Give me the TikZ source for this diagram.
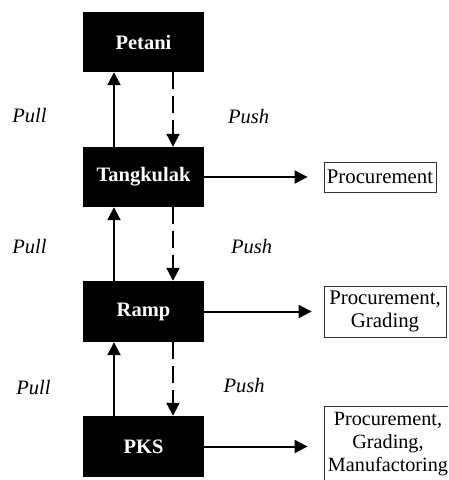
\documentclass[tikz,border=0pt]{standalone}
\usepackage{fontspec}
\setmainfont{Liberation Serif}
\usetikzlibrary{arrows.meta}
\begin{document}
\begin{tikzpicture}[x=1pt,y=-1pt,
  blackbox/.style={rectangle,fill=black,text=white,font=\fontsize{20.5}{23.5}\selectfont\bfseries,minimum width=121pt,minimum height=60pt,inner sep=0pt},
  infobox/.style={rectangle,draw=black!80,line width=0.8pt,font=\fontsize{20.8}{23.5}\selectfont,align=center,inner sep=0pt},
  lbl/.style={font=\fontsize{20.5}{23.5}\selectfont\itshape,inner sep=0pt},
  arr/.style={line width=2pt,-{Triangle[width=13pt,length=13pt]}},
  darr/.style={arr,dash pattern=on 17pt off 7pt}]
\clip (0,0) rectangle (448,480);
\useasboundingbox (0,0) rectangle (448,480);
\fill[white] (0,0) rectangle (448,480);
\node[blackbox] (petani) at (143.5,42) {Petani};
\node[blackbox] (tang) at (143.5,177) {Tangkulak};
\node[blackbox,minimum height=61pt] (ramp) at (143.5,311.5) {Ramp};
\node[blackbox,minimum height=61pt] (pks) at (143.5,446.5) {PKS};
\coordinate (px) at (114,0);
\coordinate (sx) at (173,0);
\node[infobox,minimum width=112pt,minimum height=30pt] (p1) at (380,177) {Procurement};
\node[infobox,minimum width=122pt,minimum height=51pt] (p2) at (385,311.5) {Procurement,\\Grading};
\node[infobox,minimum width=132pt,minimum height=80pt] (p3) at (390,446.5) {};
\node[align=center,inner sep=0pt,font=\fontsize{20.2}{23}\selectfont] (p3t) at (388,444) {Procurement,\\Grading,\\Manufactoring};
\node[lbl] (l1) at (29.5,116) {Pull};
\node[lbl] (l2) at (29.5,247) {Pull};
\node[lbl] (l3) at (33.5,388) {Pull};
\node[lbl] (r1) at (248.5,117) {Push};
\node[lbl] (r2) at (251.5,247) {Push};
\node[lbl] (r3) at (244,386) {Push};
\draw[arr] (tang.north -| px) -- (petani.south -| px);
\draw[arr] (ramp.north -| px) -- (tang.south -| px);
\draw[arr] (pks.north -| px) -- (ramp.south -| px);
\draw[darr] (petani.south -| sx) -- (tang.north -| sx);
\draw[darr] (tang.south -| sx) -- (ramp.north -| sx);
\draw[darr] (ramp.south -| sx) -- (pks.north -| sx);
\draw[arr,shorten >=16pt] (tang.east) -- (tang.east -| p1.west);
\draw[arr,shorten >=12pt] (ramp.east) -- (ramp.east -| p2.west);
\draw[arr,shorten >=16pt] (pks.east) -- (pks.east -| p3.west);
\end{tikzpicture}
\end{document}
